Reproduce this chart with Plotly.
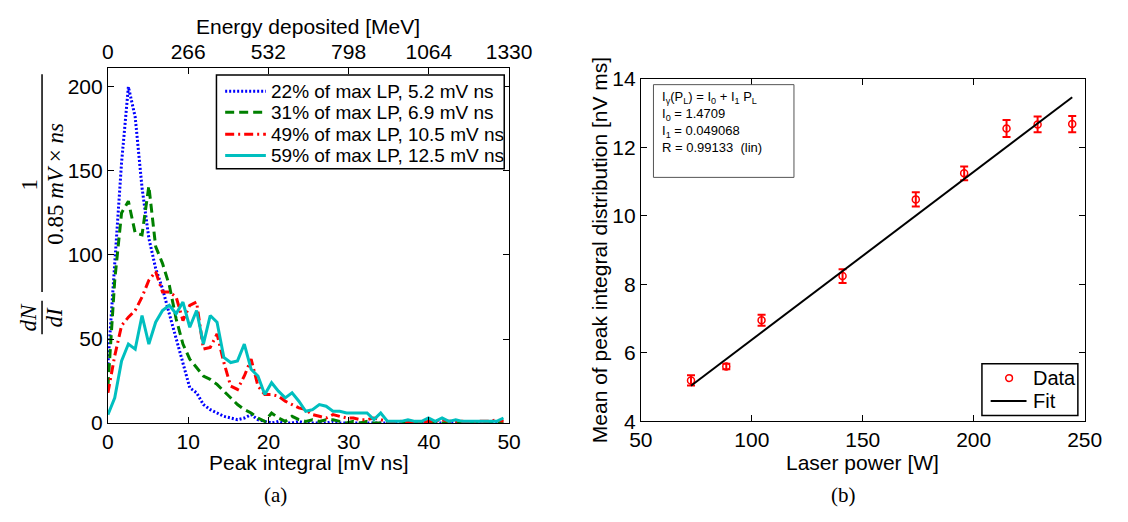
import plotly.graph_objects as go

# ---------------- data: panel (a) ----------------
peak_integral = [0.0, 0.85, 1.7, 2.55, 3.4, 4.25, 5.1, 5.95, 6.8, 7.65, 8.5, 9.35, 10.2, 11.05,
                 11.9, 12.75, 13.6, 14.45, 15.3, 16.15, 17.0, 17.85, 18.7, 19.55, 20.4, 21.25,
                 22.1, 22.95, 23.8, 24.65, 25.5, 26.35, 27.2, 28.05, 28.9, 29.75, 30.6, 31.45,
                 32.3, 33.15, 34.0, 34.85, 35.7, 36.55, 37.4, 38.25, 39.1, 39.95, 40.8, 41.65,
                 42.5, 43.35, 44.2, 45.05, 45.9, 46.75, 47.6, 48.45, 49.3]
counts_22 = [35, 95, 155, 200, 182, 140, 110, 92, 80, 65, 50, 35, 21, 18,
             11, 8, 6, 4, 3, 2, 3, 5, 2, 1, 0, 1,
             0, 0, 1, 0, 0, 0, 0, 1, 0, 0, 0, 0,
             0, 0, 0, 0, 0, 0, 0, 0, 0, 0, 0, 0,
             0, 0, 0, 0, 0, 0, 0, 0, 0]
counts_31 = [22, 85, 125, 132, 113, 112, 141, 105, 95, 82, 62, 47, 38, 33,
             28, 26, 23, 19, 15, 11, 8, 6, 3, 1, 6, 3,
             1, 4, 2, 1, 2, 1, 2, 2, 1, 0, 1, 0,
             1, 0, 0, 0, 0, 0, 0, 0, 0, 1, 0, 0,
             0, 0, 0, 0, 0, 0, 0, 0, 0]
counts_49 = [18, 40, 58, 63, 67, 75, 85, 90, 78, 78, 75, 61, 70, 72,
             44, 45, 53, 36, 22, 20, 28, 38, 22, 17, 17, 16,
             13, 11, 9, 8, 5, 4, 3, 5, 4, 3, 3, 2,
             2, 3, 2, 1, 0, 1, 0, 1, 0, 1, 1, 2,
             1, 1, 1, 0, 1, 1, 1, 2, 1]
counts_59 = [5, 15, 37, 47, 44, 64, 47, 60, 67, 70, 65, 72, 57, 67,
             47, 64, 60, 39, 36, 37, 47, 32, 28, 17, 24, 19,
             15, 18, 13, 7, 8, 11, 10, 7, 7, 6, 6, 6,
             6, 2, 6, 1, 1, 1, 2, 1, 1, 3, 1, 3,
             1, 2, 1, 1, 1, 1, 1, 1, 3]
series_names = ["22% of max LP, 5.2 mV ns", "31% of max LP, 6.9 mV ns",
                "49% of max LP, 10.5 mV ns", "59% of max LP, 12.5 mV ns"]
energy_ticks = [0, 266, 532, 798, 1064, 1330]

# ---------------- data: panel (b) ----------------
laser_power = [72.6, 88.5, 104.4, 140.9, 173.9, 195.7, 214.8, 228.8, 244.4]
mean_peak = [5.19, 5.60, 6.95, 8.24, 10.48, 11.24, 12.55, 12.67, 12.68]
mean_err = [0.15, 0.08, 0.16, 0.20, 0.21, 0.20, 0.25, 0.23, 0.24]
fit_I0 = 1.4709
fit_I1 = 0.049068
fit_R = 0.99133

W, H = 1128, 522
def px(x):
    return x / W
def py(y):
    return 1 - y / H

FONT = "Liberation Sans, Arial, Helvetica, sans-serif"
SERIF = "Liberation Serif, Times New Roman, serif"

fig = go.Figure()

styles = [
    dict(color="#0000ff", width=3, dash="2px,2px"),
    dict(color="#008000", width=3, dash="9px,5px"),
    dict(color="#ff0000", width=3, dash="9px,4px,2px,4px"),
    dict(color="#00bfbf", width=3),
]
for ys, nm, st in zip([counts_22, counts_31, counts_49, counts_59], series_names, styles):
    fig.add_trace(go.Scatter(x=peak_integral, y=ys, mode="lines", name=nm, line=st,
                             xaxis="x", yaxis="y", showlegend=False))

# invisible trace to activate the top energy axis
fig.add_trace(go.Scatter(x=[energy_ticks[0], energy_ticks[-1]], y=[0, 0], mode="lines",
                         line=dict(width=0), showlegend=False, hoverinfo="skip",
                         xaxis="x3", yaxis="y"))

fig.add_trace(go.Scatter(
    x=laser_power, y=mean_peak, mode="markers", name="Data",
    marker=dict(symbol="circle-open", color="red", size=7, line=dict(width=1.5, color="red")),
    error_y=dict(type="data", array=mean_err, color="red", thickness=2, width=4),
    xaxis="x2", yaxis="y2", showlegend=False))

fit_x = [laser_power[0], laser_power[-1]]
fit_y = [fit_I0 + fit_I1 * v for v in fit_x]
fig.add_trace(go.Scatter(x=fit_x, y=fit_y, mode="lines", name="Fit",
                         line=dict(color="black", width=2),
                         xaxis="x2", yaxis="y2", showlegend=False))

axis_common = dict(showgrid=False, zeroline=False, showline=True, linecolor="black",
                   linewidth=1, ticks="inside", ticklen=6, tickwidth=1, tickcolor="black",
                   tickfont=dict(family=FONT, size=21, color="black"))

L_x0, L_x1, L_y0, L_y1 = 99, 513, 430, 59
R_x0, R_x1, R_y0, R_y1 = 649, 1107, 428, 70

fig.update_layout(
    width=W, height=H, margin=dict(l=0, r=0, t=0, b=0),
    paper_bgcolor="white", plot_bgcolor="white",
    font=dict(family=FONT, size=21, color="black"),
    showlegend=False,
    xaxis=dict(domain=[px(L_x0), px(L_x1)], range=[0, 50], tickvals=[0, 10, 20, 30, 40, 50],
               anchor="y", mirror=True, **axis_common),
    yaxis=dict(domain=[py(L_y0), py(L_y1)], range=[0, 211], tickvals=[0, 50, 100, 150, 200],
               anchor="x", mirror="ticks", ticklabelstandoff=0, **axis_common),
    xaxis3=dict(overlaying="x", side="top", anchor="y", range=[0, 1330], tickvals=energy_ticks,
                **axis_common),
    xaxis2=dict(domain=[px(R_x0), px(R_x1)], range=[50, 250], tickvals=[50, 100, 150, 200, 250],
                anchor="y2", mirror="ticks", **axis_common),
    yaxis2=dict(domain=[py(R_y0), py(R_y1)], range=[4, 14], tickvals=[4, 6, 8, 10, 12, 14],
                anchor="x2", mirror="ticks", ticklabelstandoff=0, **axis_common),
)

ann = []
def text(x, y, s, size=21, family=FONT, angle=0, **kw):
    d = dict(x=px(x), y=py(y), xref="paper", yref="paper", text=s, showarrow=False,
             font=dict(family=family, size=size, color="black"), textangle=angle,
             xanchor=kw.pop("xanchor", "center"), yanchor=kw.pop("yanchor", "middle"))
    d.update(kw)
    ann.append(d)

shapes = []

text(305, 15, "Energy deposited [MeV]")
text(306, 471, "Peak integral [mV ns]")
text(878, 471, "Laser power [W]")
text(606, 249, "Mean of peak integral distribution [nV ms]", angle=-90)
text(272, 505, "(a)", family=SERIF, size=21)
text(858, 505, "(b)", family=SERIF, size=21)

# y-axis label of panel (a): dN/dI * 1/(0.85 mV x ns)
text(18, 319, "<i>dN</i>", family=SERIF, size=23, angle=-90)
text(44, 319, "<i>dI</i>", family=SERIF, size=23, angle=-90)
text(18, 180, "1", family=SERIF, size=23, angle=-90)
text(44, 180, "0.85 <i>mV</i> × <i>ns</i>", family=SERIF, size=23, angle=-90)
shapes.append(dict(type="line", xref="paper", yref="paper", x0=px(31), x1=px(31),
                   y0=py(302), y1=py(337), line=dict(color="black", width=1.5)))
shapes.append(dict(type="line", xref="paper", yref="paper", x0=px(31), x1=px(31),
                   y0=py(65), y1=py(293), line=dict(color="black", width=1.5)))

# fit information box
text(669, 78,
     "I<sub>γ</sub>(P<sub>L</sub>) = I<sub>0</sub> + I<sub>1</sub> P<sub>L</sub><br>"
     f"I<sub>0</sub> = {fit_I0}<br>I<sub>1</sub> = {fit_I1}<br>R = {fit_R} &nbsp;(lin)",
     size=13, xanchor="left", yanchor="top", align="left")
shapes.append(dict(type="rect", xref="paper", yref="paper", x0=px(662), x1=px(807),
                   y0=py(173), y1=py(76), line=dict(color="#555555", width=1),
                   fillcolor="rgba(0,0,0,0)"))

# legend of panel (a)
shapes.append(dict(type="rect", xref="paper", yref="paper", x0=px(211), x1=px(508),
                   y0=py(164), y1=py(66), line=dict(color="black", width=1.5),
                   fillcolor="white", layer="above"))
rows_a = [83, 105, 128, 150]
for nm, st, ry in zip(series_names, styles, rows_a):
    shapes.append(dict(type="line", xref="paper", yref="paper", x0=px(220), x1=px(262),
                       y0=py(ry), y1=py(ry), line=st, layer="above"))
    text(265, ry, nm, size=19, xanchor="left")

# legend of panel (b)
shapes.append(dict(type="rect", xref="paper", yref="paper", x0=px(1001), x1=px(1100),
                   y0=py(422), y1=py(368), line=dict(color="black", width=1.5),
                   fillcolor="white", layer="above"))
shapes.append(dict(type="circle", xref="paper", yref="paper", x0=px(1025.5), x1=px(1032.5),
                   y0=py(386.5), y1=py(379.5), line=dict(color="red", width=1.5),
                   fillcolor="rgba(0,0,0,0)", layer="above"))
text(1052, 383, "Data", size=20, xanchor="left")
shapes.append(dict(type="line", xref="paper", yref="paper", x0=px(1010), x1=px(1047),
                   y0=py(407), y1=py(407), line=dict(color="black", width=2), layer="above"))
text(1052, 407, "Fit", size=20, xanchor="left")

fig.update_layout(annotations=ann, shapes=shapes)

fig.write_html("out.html")
